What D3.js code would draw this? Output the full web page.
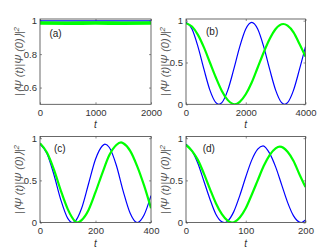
<!DOCTYPE html>
<html>
<head>
<meta charset="utf-8">
<script src="https://cdn.jsdelivr.net/npm/d3@7"></script>
<style>
  body { margin: 0; background: #fff; }
  svg { display: block; font-family: "Liberation Sans", Arial, sans-serif; }
</style>
</head>
<body>
<svg id="fig"></svg>
<script>
// (a) fidelity stays near 1
var tA = [0, 500, 1000, 1500, 2000];
var blueA = [0.999, 0.999, 0.999, 0.999, 0.999];
var greenA = [0.986, 0.985, 0.986, 0.985, 0.986];

// (b)
var tB = [0, 200, 400, 600, 800, 1000, 1100, 1200, 1400, 1600, 1800, 2000, 2200,
          2400, 2600, 2800, 3000, 3200, 3300, 3400, 3600, 3800, 4000];
var blueB = [0.98, 0.90, 0.69, 0.42, 0.17, 0.02, 0, 0.02, 0.17, 0.42, 0.69, 0.90, 0.98,
             0.90, 0.69, 0.42, 0.17, 0.02, 0, 0.02, 0.17, 0.42, 0.69];
var tB2 = [0, 200, 400, 600, 800, 1000, 1200, 1400, 1630, 1800, 2000, 2200, 2400,
           2600, 2800, 3000, 3260, 3400, 3600, 3800, 4000];
var greenB = [0.97, 0.93, 0.83, 0.68, 0.50, 0.32, 0.16, 0.05, 0, 0.03, 0.12, 0.26, 0.44,
              0.62, 0.78, 0.90, 0.96, 0.94, 0.86, 0.72, 0.57];

// (c)
var tC = [0, 25, 50, 75, 100, 117, 125, 150, 175, 200, 225, 234, 250, 275, 300, 325, 350, 375, 400];
var blueC = [0.93, 0.82, 0.57, 0.27, 0.05, 0, 0.01, 0.17, 0.46, 0.75, 0.91, 0.93, 0.89, 0.68, 0.37, 0.11, 0, 0.09, 0.32];
var tC2 = [0, 25, 50, 75, 100, 125, 133, 150, 175, 200, 225, 250, 275, 292, 300, 325, 350, 375, 400];
var greenC = [0.94, 0.83, 0.63, 0.38, 0.16, 0.02, 0, 0.03, 0.15, 0.36, 0.59, 0.80, 0.92, 0.95, 0.94, 0.85, 0.67, 0.44, 0.17];

// (d)
var tD = [0, 10, 20, 30, 40, 50, 60, 65, 70, 80, 90, 100, 110, 120, 129, 140, 150, 160, 170, 180, 193, 200];
var blueD = [0.93, 0.85, 0.70, 0.49, 0.28, 0.10, 0.01, 0, 0.02, 0.13, 0.32, 0.54, 0.74, 0.87, 0.91, 0.82, 0.66, 0.45, 0.24, 0.08, 0, 0.03];
var tD2 = [0, 10, 20, 30, 40, 50, 60, 70, 77, 90, 100, 110, 120, 130, 140, 150, 157, 170, 180, 190, 200];
var greenD = [0.92, 0.85, 0.74, 0.58, 0.40, 0.23, 0.10, 0.02, 0, 0.06, 0.17, 0.33, 0.50, 0.67, 0.80, 0.88, 0.90, 0.84, 0.73, 0.57, 0.42];

var tickA = [0, 1000, 2000], tickB = [0, 2000, 4000], tickC = [0, 200, 400], tickD = [0, 100, 200];
var yTickA = [0.6, 0.8, 1], yTick = [0, 0.5, 1];
var yLabel = "|\u27E8\u03A8 (t)|\u03A8 (0)\u27E9|";

var W = 333, H = 249;
var svg = d3.select("svg#fig").attr("width", W).attr("height", H);

var panels = [
  { tag: "(a)", box: [40, 151, 19, 104.3], xd: [0, 2000], yd: [0.5, 1.01], xt: tickA, yt: yTickA,
    lab: [170, 0.926], blue: [tA, blueA], green: [tA, greenA], gw: 3.6 },
  { tag: "(b)", box: [186, 305.5, 19, 104.3], xd: [0, 4000], yd: [0, 1.02], xt: tickB, yt: yTick,
    lab: [670, 0.865], blue: [tB, blueB], green: [tB2, greenB], gw: 2.2 },
  { tag: "(c)", box: [40, 151, 136.5, 222.6], xd: [0, 400], yd: [0, 1.02], xt: tickC, yt: yTick,
    lab: [50, 0.88], blue: [tC, blueC], green: [tC2, greenC], gw: 2.2 },
  { tag: "(d)", box: [186, 305.5, 136.5, 222.6], xd: [0, 200], yd: [0, 1.02], xt: tickD, yt: yTick,
    lab: [28, 0.88], blue: [tD, blueD], green: [tD2, greenD], gw: 2.2 }
];

panels.forEach(function(p, k) {
  var x = d3.scaleLinear().domain(p.xd).range([p.box[0], p.box[1]]);
  var y = d3.scaleLinear().domain(p.yd).range([p.box[3], p.box[2]]);
  var g = svg.append("g");

  g.append("clipPath").attr("id", "clip" + k).append("rect")
    .attr("x", p.box[0]).attr("y", p.box[2])
    .attr("width", p.box[1] - p.box[0]).attr("height", p.box[3] - p.box[2]);

  // axes, ticks inside like matlab
  var bottom = g.append("g").attr("transform", "translate(0," + p.box[3] + ")")
    .call(d3.axisBottom(x).tickValues(p.xt).tickSizeInner(-2).tickSizeOuter(0).tickPadding(5)
      .tickFormat(d3.format("d")));
  var top = g.append("g").attr("transform", "translate(0," + p.box[2] + ")")
    .call(d3.axisTop(x).tickValues(p.xt).tickSizeInner(-2).tickSizeOuter(0).tickFormat(""));
  var left = g.append("g").attr("transform", "translate(" + p.box[0] + ",0)")
    .call(d3.axisLeft(y).tickValues(p.yt).tickSizeInner(-2).tickSizeOuter(0).tickPadding(3)
      .tickFormat(function(d) { return d === 1 ? "1" : d === 0 ? "0" : d3.format(".1f")(d); }));
  var right = g.append("g").attr("transform", "translate(" + p.box[1] + ",0)")
    .call(d3.axisRight(y).tickValues(p.yt).tickSizeInner(-2).tickSizeOuter(0).tickFormat(""));
  [bottom, top, left, right].forEach(function(a) {
    a.select(".domain").remove();
    a.selectAll("line").attr("stroke", "#444").attr("stroke-width", 0.6);
    a.selectAll("text").attr("fill", "#333").style("font-size", "9.5px")
      .style("font-family", '"Liberation Sans", Arial, sans-serif');
  });

  var line = d3.line()
    .x(function(d) { return x(d[0]); })
    .y(function(d) { return y(d[1]); })
    .curve(d3.curveMonotoneX);

  var plot = g.append("g").attr("clip-path", "url(#clip" + k + ")");
  plot.append("path")
    .datum(d3.zip(p.blue[0], p.blue[1]))
    .attr("d", line).attr("fill", "none")
    .attr("stroke", "#0000ff").attr("stroke-width", 1.2);
  plot.append("path")
    .datum(d3.zip(p.green[0], p.green[1]))
    .attr("d", line).attr("fill", "none")
    .attr("stroke", "#00ff00").attr("stroke-width", p.gw);

  // frame
  g.append("rect")
    .attr("x", p.box[0]).attr("y", p.box[2])
    .attr("width", p.box[1] - p.box[0]).attr("height", p.box[3] - p.box[2])
    .attr("fill", "none").attr("stroke", "#444").attr("stroke-width", 0.8);

  // panel tag
  g.append("text")
    .attr("x", x(p.lab[0])).attr("y", y(p.lab[1]))
    .attr("dy", "0.35em")
    .style("font-size", "10px").attr("fill", "#222")
    .text(p.tag);

  // axis labels
  g.append("text")
    .attr("x", (p.box[0] + p.box[1]) / 2).attr("y", p.box[3] + 24)
    .attr("text-anchor", "middle")
    .style("font-size", "10px").style("font-style", "italic").attr("fill", "#333")
    .text("t");

  var yl = g.append("text")
    .attr("transform", "translate(" + (p.box[0] - 21) + "," + ((p.box[2] + p.box[3]) / 2) + ") rotate(-90)")
    .attr("text-anchor", "middle")
    .attr("dy", "0.35em")
    .style("font-size", "11px").style("font-style", "italic").attr("fill", "#555");
  yl.append("tspan").text(yLabel);
  yl.append("tspan").attr("dy", "-0.45em").style("font-size", "8px").text("2");
});
</script>
</body>
</html>
